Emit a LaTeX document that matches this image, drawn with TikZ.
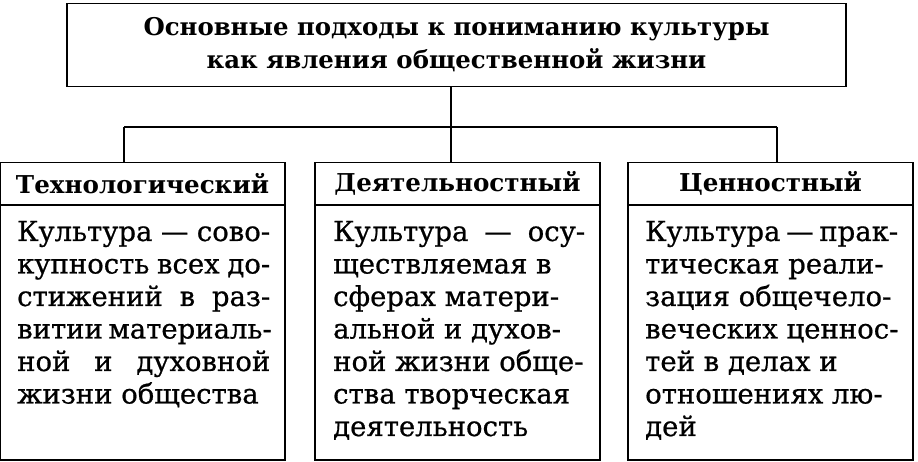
\documentclass[tikz,border=0pt]{standalone}
\usepackage{fontspec}
\setmainfont{DejaVu Serif}
\newfontfamily\bodyfont[FakeBold=0.7]{DejaVu Serif}
\newcommand{\jl}[1]{\hbox to 253pt{\spaceskip=0.3em plus 1fil minus 0.1em #1}}
\begin{document}
\begin{tikzpicture}[x=1pt,y=-1pt,
  frame/.style={draw, line width=1.8pt, rectangle, inner sep=0pt},
  titlebox/.style={frame, minimum width=779pt, minimum height=83pt, align=center,
    font=\bfseries\fontsize{24.4}{33}\selectfont},
  hdr/.style={frame, minimum width=285pt, minimum height=42pt,
    font=\bfseries\fontsize{24.6}{26}\selectfont},
  bodybox/.style={frame, minimum width=285pt, minimum height=255pt},
  bodytext/.style={anchor=base west, inner sep=0pt,
    font=\bodyfont\fontsize{27.5}{32.5}\selectfont},
  link/.style={line width=1.8pt}]
\useasboundingbox (0,0) rectangle (918,462);
\fill[white] (0,0) rectangle (918,462);

\node[titlebox] (top) at (456.5,45) {Основные подходы к пониманию культуры\\как явления общественной жизни};

\node[hdr] (h1) at (142.5,183.5) {Технологический};
\node[hdr] (h2) at (457.5,183.5) {Деятельностный};
\node[hdr] (h3) at (770.5,183.5) {Ценностный};

\node[bodybox] (b1) at (142.5,332.5) {};
\node[bodybox] (b2) at (457.5,332.5) {};
\node[bodybox] (b3) at (770.5,332.5) {};

\node[bodytext] (t1) at (17,241) {\vtop{\jl{Культура — сово-}
\jl{купность всех до-}
\jl{стижений в раз-}
\jl{витии материаль-}
\jl{ной и духовной}
\hbox{жизни общества}}};
\node[bodytext] (t2) at (333,241) {\vtop{\hbox to 252pt{\spaceskip=0.3em plus 1fil minus 0.1em Культура — осу-}
\hbox{ществляемая в}
\hbox{сферах матери-}
\hbox{альной и духов-}
\hbox{ной жизни обще-}
\hbox{ства творческая}
\hbox{деятельность}}};
\node[bodytext] (t3) at (645,241) {\vtop{\hbox to 253pt{\spaceskip=0.3em plus 1fil minus 0.1em Культура — прак-}
\hbox{тическая реали-}
\hbox{зация общечело-}
\hbox{веческих ценнос-}
\hbox{тей в делах и}
\hbox{отношениях лю-}
\hbox{дей}}};

\coordinate (jl) at (124,127);
\coordinate (jm) at (451,127);
\coordinate (jr) at (777,127);
\draw[link] (jl) -- (jr);
\draw[link] (top.south -| jm) -- (jm |- h2.north);
\draw[link] (jl) -- (jl |- h1.north);
\draw[link] (jr) -- (jr |- h3.north);
\end{tikzpicture}
\end{document}
